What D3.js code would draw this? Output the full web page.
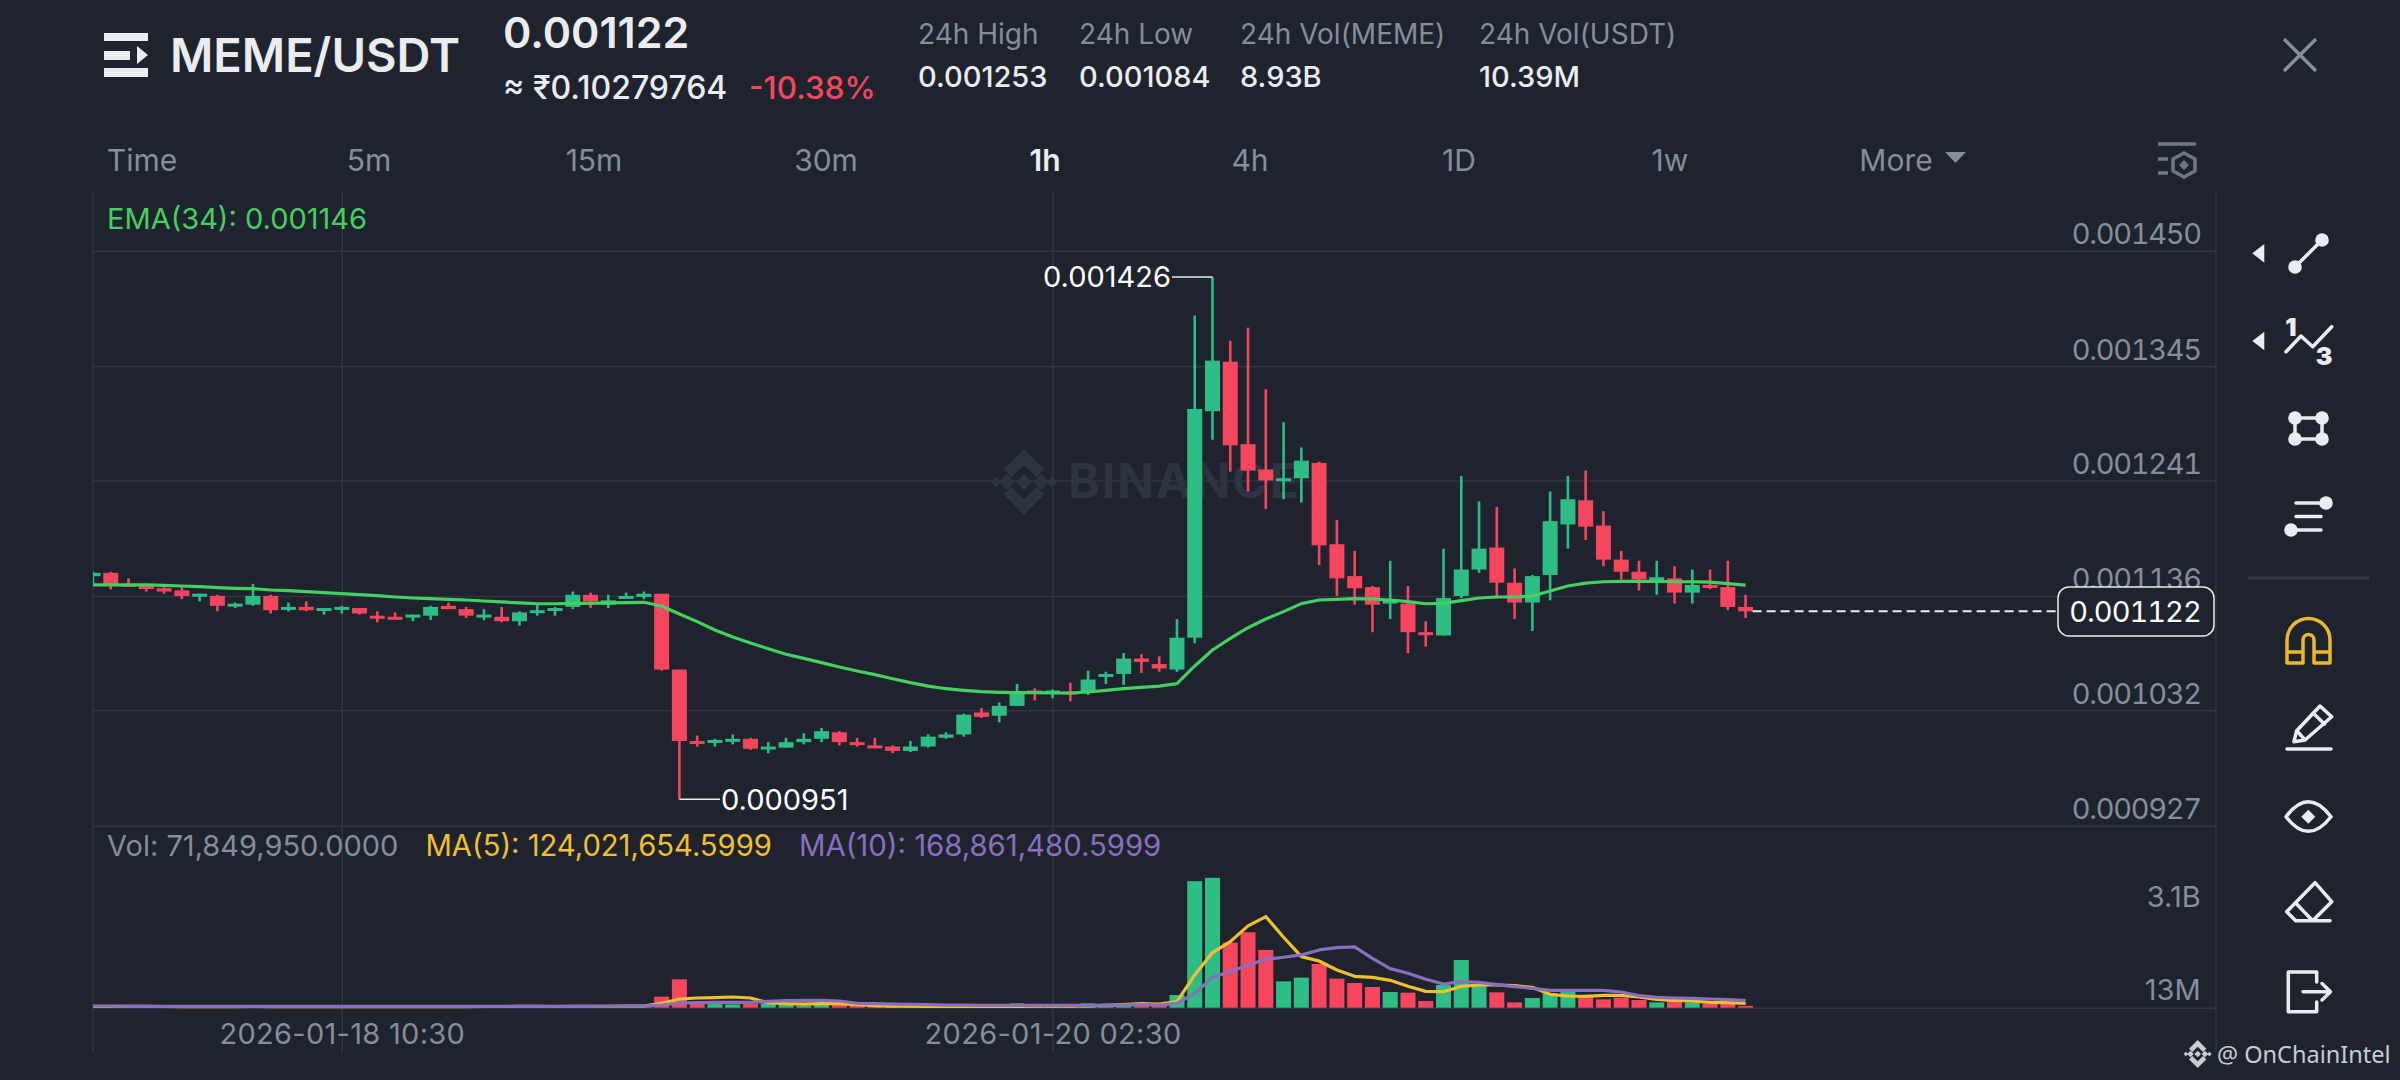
<!DOCTYPE html>
<html>
<head>
<meta charset="utf-8">
<title>MEME/USDT</title>
<script src="https://cdn.jsdelivr.net/npm/d3@7"></script>
<style>
html, body { margin: 0; padding: 0; background: #1e232e; }
svg { display: block; font-family: Inter, "Noto Sans", sans-serif; }
</style>
</head>
<body>
<div id="chart"></div>
<script>
// prices are in units of 0.000001 USDT, volumes in millions of MEME
var opens = [1154,1157,1147,1145,1143,1141,1136,1136,1127,1128,1136,1125,1126,1124,1125,1125,1118,1117,1118,1118,1127,1124,1117,1117,1113,1122,1123,1126,1137,1128,1135,1135,
  1138,1069,1004,1003,1005,1006,997,998,1003,1006,1012,1003,1000,999,995,999,1007,1010,1030,1027,1036,1050,1049,1049,1049,1063,1065,1079,1074,1069,
  1098,1304,1349,1274,1251,1241,1243,1257,1183,1154,1144,1129,1129,1103,1100,1136,1160,1180,1148,1130,1155,1201,1223,1200,1169,1158,1150,1152,1139,1146,1144,1126];
var highs = [1158,1158,1152,1146,1144,1144,1138,1137,1130,1147,1137,1130,1131,1125,1127,1125,1122,1121,1119,1127,1130,1126,1124,1126,1122,1128,1126,1140,1139,1137,1139,1140,
  1138,1069,1009,1006,1010,1007,1003,1007,1011,1016,1013,1007,1007,1000,1004,1010,1012,1029,1034,1039,1056,1052,1051,1057,1068,1067,1084,1083,1081,1115,
  1391,1426,1368,1380,1324,1294,1271,1258,1205,1177,1145,1168,1145,1113,1179,1245,1222,1217,1161,1155,1231,1245,1250,1213,1177,1168,1168,1163,1160,1160,1168,1137];
var lows = [1147,1142,1145,1140,1138,1133,1131,1122,1125,1127,1120,1122,1122,1119,1120,1119,1112,1115,1113,1114,1124,1116,1114,1112,1109,1118,1118,1124,1125,1125,1134,1133,
  1068,951,999,999,1001,996,993,998,1001,1003,1000,999,998,993,994,998,1006,1008,1025,1021,1036,1041,1043,1040,1046,1056,1055,1066,1067,1067,
  1093,1278,1249,1231,1215,1224,1221,1164,1136,1128,1103,1115,1084,1090,1100,1134,1157,1135,1115,1104,1132,1179,1187,1163,1151,1141,1137,1129,1129,1142,1123,1116];
var closes = [1157,1147,1146,1144,1140,1136,1138,1127,1129,1136,1123,1126,1123,1125,1126,1120,1117,1116,1119,1126,1124,1118,1119,1113,1121,1123,1125,1137,1131,1132,1136,1138,
  1069,1004,1003,1005,1006,997,999,1003,1006,1013,1003,1001,998,995,999,1008,1010,1028,1026,1036,1049,1049,1050,1047,1060,1065,1079,1076,1070,1098,
  1306,1350,1273,1250,1241,1243,1259,1182,1152,1143,1128,1132,1103,1101,1134,1160,1179,1148,1130,1154,1204,1224,1199,1169,1158,1151,1153,1139,1146,1144,1126,1122];
var ema34 = [1146,1146,1146,1146,1145.6,1145,1144.4,1143.5,1142.9,1142.6,1141.4,1140.8,1139.9,1139,1138,1137.1,1136.2,1135,1134.1,1133.5,1132.9,1132.3,1131.4,1130.5,1129.6,1128.9,1128.9,1129.3,1129.3,1129.6,1129.9,1130.2,
  1126.8,1119.6,1112.6,1105,1098.6,1093.2,1088,1082.9,1079.2,1075.3,1071.3,1067.7,1064.4,1060.7,1057.1,1054,1051.6,1050.1,1048.9,1048.3,1048,1048,1047.7,1047.7,1048.6,1050.1,1051.6,1052.8,1054,1056.2,
  1072.3,1086.8,1097.4,1107.1,1115,1121.7,1129,1132.3,1132.9,1133.5,1133.2,1132.3,1130.8,1128.9,1129.2,1131.7,1134.1,1135,1135,1135.9,1140.5,1145,1147.7,1148.9,1149.2,1149.2,1149.2,1148.9,1148.9,1148.6,1147.1,1145.9];
var volumes = [38,42,26,24,30,36,22,44,20,46,40,22,28,18,20,30,28,20,22,36,24,30,22,34,34,26,22,58,40,36,24,30,
  376,948,156,134,123,145,156,145,79,123,123,101,57,46,46,50,36,70,30,60,156,79,79,68,156,123,145,123,156,431,
  4182,4292,2158,2499,1916,882,1003,1454,970,827,695,530,508,233,761,1586,761,519,189,332,486,541,376,288,343,266,189,244,189,145,145,72];
var volMa5 = [58,56,55,54,52,50,50,48,50,52,50,48,46,46,44,44,46,46,48,48,50,50,52,52,54,54,52,56,58,60,62,68,
  156,299,332,343,365,332,178,145,134,145,145,112,79,68,62,58,56,56,54,52,56,62,64,66,72,90,112,145,134,211,
  1091,1828,2191,2708,3016,2334,1696,1553,1256,1047,1014,915,717,552,541,717,761,761,739,684,453,398,387,420,420,365,288,255,233,189,178,156];
var volMa10 = [60,60,58,58,58,56,56,56,56,56,55,55,55,54,54,54,54,54,54,55,55,55,55,56,56,56,56,58,58,60,62,68,
  101,167,178,189,189,189,222,244,255,255,233,156,145,134,123,112,101,96,92,90,88,88,90,90,90,101,101,112,100,156,
  486,1014,1201,1421,1608,1674,1751,1916,1993,2015,1641,1300,1146,948,794,871,849,772,706,651,585,585,585,585,530,409,354,332,321,299,277,244];

var priceTicks = [1450,1345,1241,1136,1032,927];
var volumeTicks = [3100,13];
var priceTickLabels = ["0.001450","0.001345","0.001241","0.001136","0.001032","0.000927"];
var volumeTickLabels = ["3.1B","13M"];
var timeTicks = [14,54];
var timeTickLabels = ["2026-01-18 10:30","2026-01-20 02:30"];
var periods = ["Time","5m","15m","30m","1h","4h","1D","1w"];
var periodCenters = [142,369,594,826,1045,1250,1459,1670];
var statNames = ["24h High","24h Low","24h Vol(MEME)","24h Vol(USDT)"];
var statValues = ["0.001253","0.001084","8.93B","10.39M"];
var statLefts = [918,1079,1240,1479];

var lastPrice = 1122;
var highIndex = 63, lowIndex = 33;

var w = 2400, h = 1080;
var plotLeft = 93, plotRight = 2216, plotTop = 192, plotBottom = 1053;
var green = "#2ebd85", red = "#f6465d", grey = "#848e9c", white = "#eaecef",
    gridColor = "#2f3541", bg = "#1e232e";

var svg = d3.select("#chart").append("svg").attr("width", w).attr("height", h);

var x = d3.scaleLinear().domain([0, 93]).range([93, 1745.6]);
var y = d3.scaleLinear().domain([927, 1450]).range([825.7, 250.7]);
var yVol = d3.scaleLinear().domain([13, 3100]).range([1007.7, 914]);

svg.append("defs").append("clipPath").attr("id", "plot")
  .append("rect").attr("x", plotLeft).attr("y", plotTop).attr("width", plotRight - plotLeft).attr("height", plotBottom - plotTop);

function text(parent, str, tx, ty, size, fill, anchor, weight) {
  return parent.append("text").attr("x", tx).attr("y", ty).attr("font-size", size).attr("fill", fill)
    .attr("text-anchor", anchor || "start").attr("font-weight", weight || 400).text(str);
}

// binance mark, also used for the watermark
function logo(cx, cy, s, color) {
  svg.append("path").attr("transform", "translate(" + cx + "," + cy + ") scale(" + s + ")").attr("fill", color)
    .attr("d", "M0,-.24L.24,0L0,.24L-.24,0Z M-.76,0L-.52,-.24L-.28,0L-.52,.24Z M.76,0L.52,-.24L.28,0L.52,.24Z" +
      "M0,-1L.62,-.38L.38,-.14L0,-.52L-.38,-.14L-.62,-.38Z M0,1L.62,.38L.38,.14L0,.52L-.38,.14L-.62,.38Z" +
      "M-1,0L-.84,-.16L-.68,0L-.84,.16Z M1,0L.84,-.16L.68,0L.84,.16Z");
}

// header
var head = svg.append("g");
head.append("path").attr("fill", white)
  .attr("d", "M104,33H148V41H104Z M104,51H130V60H104Z M137,46L148,55L137,64Z M104,68H148V77H104Z");
text(head, "MEME/USDT", 170, 72, 47, white, "start", 600);
text(head, "0.001122", 503, 48, 43, white, "start", 600);
text(head, "≈ ₹0.10279764", 503, 99, 32, white, "start", 500);
text(head, "-10.38%", 749, 99, 31.5, red, "start", 500);
statNames.forEach(function(s, i) {
  text(head, s, statLefts[i], 44, 28, grey);
  text(head, statValues[i], statLefts[i], 87, 29, white, "start", 500);
});
head.append("path").attr("stroke", grey).attr("stroke-width", 3.5).attr("fill", "none")
  .attr("d", "M2284,39L2316,71 M2316,39L2284,71");

// period tabs
periods.forEach(function(p, i) {
  var active = p == "1h";
  text(head, p, periodCenters[i], 171, 30, active ? white : grey, "middle", active ? 600 : 400);
});
text(head, "More", 1896, 171, 30, grey, "middle");
head.append("path").attr("fill", grey).attr("d", "M1945,152H1966L1955.5,163Z");
head.append("path").attr("stroke", "#6f7785").attr("stroke-width", 3.5).attr("fill", "none")
  .attr("d", "M2158,144H2196 M2158,159H2168 M2158,173H2168 M2184,153L2195,159V171L2184,177L2173,171V159Z");
head.append("path").attr("fill", "#6f7785").attr("d", "M2184,160L2189,165L2184,170L2179,165Z");

// watermark
logo(1024, 482, 33, "#2d3340");
text(svg, "BINANCE", 1068, 498, 48, "#2d3340", "start", 700).attr("letter-spacing", 2);

// plot frame and grid
svg.append("g").attr("stroke", gridColor).attr("stroke-width", 1.5).selectAll("line")
  .data([plotLeft, plotRight]).enter().append("line")
  .attr("x1", function(d) {return d;}).attr("x2", function(d) {return d;})
  .attr("y1", plotTop).attr("y2", plotBottom);

var priceAxis = svg.append("g").attr("transform", "translate(" + plotRight + ",0)")
  .call(d3.axisLeft(y).tickValues(priceTicks).tickSize(plotRight - plotLeft)
    .tickFormat(function(d, i) {return priceTickLabels[i];}));
var volAxis = svg.append("g").attr("transform", "translate(" + plotRight + ",0)")
  .call(d3.axisLeft(yVol).tickValues(volumeTicks).tickSize(plotRight - plotLeft)
    .tickFormat(function(d, i) {return volumeTickLabels[i];}));
var timeAxis = svg.append("g").attr("transform", "translate(0," + plotBottom + ")")
  .call(d3.axisTop(x).tickValues(timeTicks).tickSize(plotBottom - plotTop)
    .tickFormat(function(d, i) {return timeTickLabels[i];}));

[priceAxis, volAxis, timeAxis].forEach(function(g) {
  g.select(".domain").remove();
  g.selectAll("line").attr("stroke", gridColor).attr("stroke-width", 1.5);
  g.selectAll("text").attr("font-size", 29).attr("fill", grey).attr("font-family", "Inter");
});
priceAxis.selectAll("text").attr("x", -15.3).attr("dy", 0).attr("y", -7).attr("text-anchor", "end")
  .attr("letter-spacing", -1.3).style("font-variant-numeric", "tabular-nums");
volAxis.selectAll("text").attr("x", -15.3).attr("dy", 0).attr("y", -8).attr("text-anchor", "end");
volAxis.selectAll(".tick").filter(function(d) {return d == 3100;}).select("line").remove();
timeAxis.selectAll("text").attr("y", -9).attr("dy", 0).attr("text-anchor", "middle").attr("letter-spacing", 0.3);

// legends
text(svg, "EMA(34): 0.001146", 107, 229, 29, "#46cf60");
text(svg, "Vol: 71,849,950.0000", 107, 856, 29, grey);
text(svg, "MA(5): 124,021,654.5999", 425.5, 856, 29.2, "#f0c02f");
text(svg, "MA(10): 168,861,480.5999", 799, 856, 29.3, "#8a6fbf");

// candles
var candles = opens.map(function(o, i) {
  return {i: i, open: o, high: highs[i], low: lows[i], close: closes[i], vol: volumes[i]};
});
function colorOf(d) {return d.close >= d.open ? green : red;}

var plot = svg.append("g").attr("clip-path", "url(#plot)");

plot.selectAll(".wick").data(candles).enter().append("line")
  .attr("class", "wick")
  .attr("x1", function(d) {return x(d.i);}).attr("x2", function(d) {return x(d.i);})
  .attr("y1", function(d) {return y(d.high);}).attr("y2", function(d) {return y(d.low);})
  .attr("stroke", colorOf).attr("stroke-width", 2.6);

plot.selectAll(".body").data(candles).enter().append("rect")
  .attr("class", "body")
  .attr("x", function(d) {return x(d.i) - 7.5;})
  .attr("y", function(d) {return y(Math.max(d.open, d.close));})
  .attr("width", 15)
  .attr("height", function(d) {return Math.max(Math.abs(y(d.open) - y(d.close)), 3);})
  .attr("fill", colorOf);

// ema
plot.append("path").datum(ema34)
  .attr("fill", "none").attr("stroke", "#46cf60").attr("stroke-width", 3.2).attr("stroke-linejoin", "round")
  .attr("d", d3.line().x(function(d, i) {return x(i);}).y(function(d) {return y(d);}));

// volume bars and their averages
plot.selectAll(".vol").data(candles).enter().append("rect")
  .attr("class", "vol")
  .attr("x", function(d) {return x(d.i) - 7.5;})
  .attr("y", function(d) {return yVol(d.vol);})
  .attr("width", 15)
  .attr("height", function(d) {return yVol(13) - yVol(d.vol);})
  .attr("fill", colorOf);

var volLine = d3.line().x(function(d, i) {return x(i);}).y(function(d) {return yVol(d);});
plot.append("path").datum(volMa5).attr("fill", "none").attr("stroke", "#f0c02f").attr("stroke-width", 3.2).attr("stroke-linejoin", "round").attr("d", volLine);
plot.append("path").datum(volMa10).attr("fill", "none").attr("stroke", "#8a6fbf").attr("stroke-width", 3.2).attr("stroke-linejoin", "round").attr("d", volLine);

// high and low callouts
svg.append("line").attr("x1", 1172).attr("x2", x(highIndex)).attr("y1", y(highs[highIndex])).attr("y2", y(highs[highIndex]))
  .attr("stroke", white).attr("stroke-width", 1.5);
text(svg, "0.001426", 1171, 287, 29, "#ffffff", "end");
svg.append("line").attr("x1", x(lowIndex)).attr("x2", 720).attr("y1", y(lows[lowIndex])).attr("y2", y(lows[lowIndex]))
  .attr("stroke", white).attr("stroke-width", 1.5);
text(svg, "0.000951", 721, 810, 29, "#ffffff");

// current price
svg.append("line").attr("x1", x(93) + 7).attr("x2", 2058).attr("y1", y(lastPrice)).attr("y2", y(lastPrice))
  .attr("stroke", white).attr("stroke-width", 2).attr("stroke-dasharray", "9 5");
svg.append("rect").attr("x", 2058).attr("y", 587).attr("width", 156).attr("height", 49).attr("rx", 11)
  .attr("fill", bg).attr("stroke", white).attr("stroke-width", 1.5);
text(svg, "0.001122", 2200.7, 621.7, 29, "#ffffff", "end").attr("letter-spacing", -1).style("font-variant-numeric", "tabular-nums");

// side toolbar
var tools = svg.append("g").attr("fill", "none").attr("stroke", white).attr("stroke-width", 3.5)
  .attr("stroke-linecap", "round").attr("stroke-linejoin", "round");
tools.append("path").attr("d", "M2295,267L2322,240");
[[2295,267],[2322,240],[2295,418],[2322,418],[2295,439],[2322,439],[2326,503],[2291,530]].forEach(function(c) {
  tools.append("circle").attr("cx", c[0]).attr("cy", c[1]).attr("r", 6.8).attr("fill", white).attr("stroke", "none");
});
tools.append("path").attr("fill", white).attr("stroke", "none")
  .attr("d", "M2264.3,244V262.7L2252.3,253.3Z M2264.3,331.7V350.3L2252.3,341Z");
tools.append("path").attr("d", "M2286,351.7L2301,336L2312.7,346.7L2331.7,326.7");
text(tools, "1", 2291, 336, 25, white, "middle", 900).attr("stroke", "none");
text(tools, "3", 2324, 365, 25, white, "middle", 900).attr("stroke", "none");
tools.append("path").attr("d", "M2295,418H2322V439H2295Z");
tools.append("path").attr("d", "M2296,503H2326 M2296,516.5H2321 M2291,530H2321");
svg.append("line").attr("x1", 2248).attr("x2", 2369).attr("y1", 578).attr("y2", 578).attr("stroke", "#333a46").attr("stroke-width", 3);
tools.append("path").attr("stroke", "#eab92d")
  .attr("d", "M2287,663V640A21.5,21.5 0 0 1 2330,640V663H2314V640A5.5,5.5 0 0 0 2303,640V663Z M2287,652H2303 M2314,652H2330");
tools.append("path").attr("d", "M2287,749H2331 M2294,741.7L2296.7,730.7L2320,706L2331.7,716.7L2305,740Z M2296.7,730.7L2305,740 M2313,713L2324.5,724");
tools.append("path").attr("d", "M2286,816.7Q2308.3,787 2331,816.7Q2308.3,846 2286,816.7Z");
tools.append("path").attr("fill", white).attr("stroke", "none").attr("d", "M2308.3,809.7L2315.3,816.7L2308.3,823.7L2301.3,816.7Z");
tools.append("path").attr("d", "M2315,882.7L2331.7,901.7L2312.7,920.7H2295.7L2286.7,911.7Z M2295.7,903L2312.7,920.7H2330");
tools.append("path").attr("d", "M2316.7,982V972H2288.3V1011.7H2316.7V1002 M2303,991.7H2330 M2322,983.5L2330.5,991.7L2322,1000");

// credit
logo(2197.7, 1054, 14, "#c9ccd2");
svg.append("text").attr("x", 2217).attr("y", 1063).attr("font-size", 23.5).attr("fill", "#c9ccd2")
  .attr("font-family", "Noto Sans").text("@ OnChainIntel");
</script>
</body>
</html>
